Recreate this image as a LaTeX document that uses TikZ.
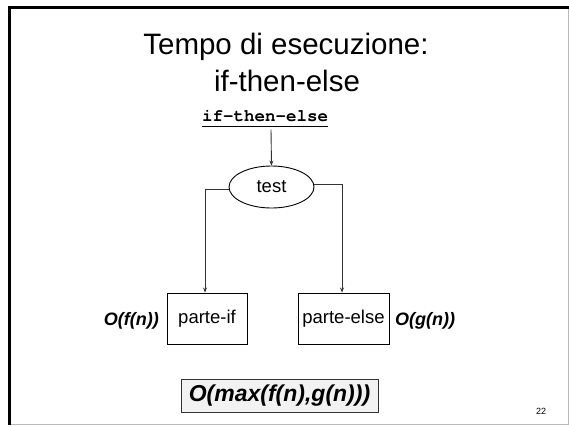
\documentclass[tikz,border=0pt]{standalone}
\usepackage{fontspec}
\setmainfont{Liberation Sans}
\newfontfamily\codefont{TeX Gyre Cursor}
\usetikzlibrary{arrows.meta,shapes.geometric}

\definecolor{linegray}{HTML}{333333}
\definecolor{boxfill}{HTML}{F2F2F2}

\tikzset{
  title/.style={font=\fontsize{29.5}{35}\selectfont, inner sep=0pt, anchor=base},
  label/.style={font=\fontsize{18.5}{22}\selectfont, inner sep=0pt},
  cost/.style={font=\fontsize{18}{22}\selectfont\bfseries\itshape, inner sep=0pt},
  block/.style={draw=black, line width=0.9pt, minimum width=80pt, minimum height=51pt,
                inner sep=0pt, font=\fontsize{18.5}{22}\selectfont},
  flow/.style={draw=linegray, line width=0.9pt, -{Stealth[length=5pt,width=4pt]}},
}

\begin{document}
\begin{tikzpicture}[x=1pt,y=-1pt]
  \useasboundingbox (0,0) rectangle (569,426);

  % slide frame: heavy top/left edges, light right/bottom edges
  \draw[gray!55, line width=1pt] (568,7.5) -- (568,424) -- (9.5,424);
  \draw[black, line width=3pt] (9.5,425) -- (9.5,7.5) -- (568.5,7.5);

  % heading
  \node[title] (title1) at (286,54) {Tempo di esecuzione:};
  \node[title] (title2) at (287,91) {if-then-else};

  % statement name in code font
  \node[font=\fontsize{17.5}{20}\selectfont\codefont\bfseries, inner sep=0pt, anchor=base]
       (code) at (265,121) {if-then-else};
  \draw[black, line width=1.6pt] ([yshift=-5.5pt]code.base west) -- ([yshift=-5.5pt]code.base east);
  \coordinate (codeout) at (271,129.5);

  % condition
  \node[draw=black, line width=0.9pt, ellipse, minimum width=85pt, minimum height=42pt,
        inner sep=0pt, font=\fontsize{18.5}{22}\selectfont] (test) at (271.5,187) {test};

  % branches
  \node[block] (thenb) at (207,318.5) {parte-if};
  \node[block, minimum width=91pt] (elseb) at (343.5,318.5) {parte-else};

  % costs of the branches
  \node[cost, anchor=base east] (costf) at (159,325) {O(f(n))};
  \node[cost, anchor=base west] (costg) at (395,325) {O(g(n))};

  % connectors
  \draw[flow] (codeout) -- (test.north);
  \coordinate (lturn) at (205,189);
  \coordinate (rturn) at (342,184);
  \draw[flow] (test.west |- lturn) -- (lturn) -- (lturn |- thenb.north);
  \draw[flow] ([yshift=3pt]test.east) -- (rturn) -- (rturn |- elseb.north);

  % overall cost
  \node[draw=linegray, line width=0.9pt, fill=boxfill, minimum width=197pt, minimum height=33pt,
        inner sep=0pt, font=\fontsize{23}{26}\selectfont\bfseries\itshape]
       (total) at (279.5,395.5) {O(max(f(n),g(n)))};

  % page number
  \node[font=\fontsize{9}{10}\selectfont, inner sep=0pt, anchor=base] (page) at (541,414) {22};
\end{tikzpicture}
\end{document}
